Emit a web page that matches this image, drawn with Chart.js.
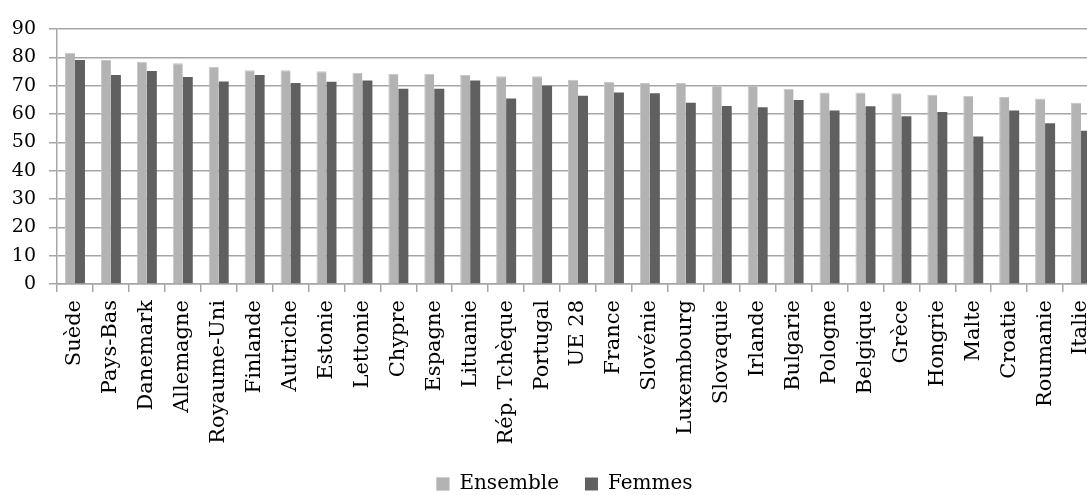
<!DOCTYPE html>
<html lang="fr">
<head>
<meta charset="utf-8">
<title>Taux d'emploi</title>
<script src="https://cdn.jsdelivr.net/npm/chart.js@4/dist/chart.umd.min.js"></script>
<style>
  html, body { margin: 0; padding: 0; background: #fff; overflow: hidden; }
  #wrap { width: 1122px; height: 495px; }
</style>
</head>
<body>
<div id="wrap"><canvas id="c" width="1122" height="495"></canvas></div>
<script>
// Pays classés par taux d'emploi de l'ensemble de la population
const categories = ["Suède", "Pays-Bas", "Danemark", "Allemagne", "Royaume-Uni", "Finlande",
  "Autriche", "Estonie", "Lettonie", "Chypre", "Espagne", "Lituanie", "Rép. Tchèque",
  "Portugal", "UE 28", "France", "Slovénie", "Luxembourg", "Slovaquie", "Irlande",
  "Bulgarie", "Pologne", "Belgique", "Grèce", "Hongrie", "Malte", "Croatie", "Roumanie", "Italie"];

const ensemble = [81.6, 79.1, 78.4, 77.9, 76.7, 75.4, 75.4, 75.1, 74.6, 74.2, 74.2, 73.8, 73.3,
  73.3, 72.1, 71.4, 70.9, 70.9, 69.9, 69.9, 68.9, 67.6, 67.6, 67.3, 66.8, 66.4, 66.0, 65.5, 64.0];

const femmes = [79.1, 73.8, 75.2, 73.1, 71.5, 73.8, 70.9, 71.4, 71.8, 68.9, 68.9, 71.8, 65.5,
  70.0, 66.4, 67.6, 67.3, 64.0, 62.8, 62.4, 64.9, 61.2, 62.7, 59.2, 60.7, 52.1, 61.2, 56.7, 54.1];

const yTicks = [0, 10, 20, 30, 40, 50, 60, 70, 80, 90];

const serif = "'DejaVu Serif', 'Liberation Serif', serif";
const axisGrey = '#a6a6a6';

// nudges the bottom legend a little to the right of the canvas centre
const legendOffset = {
  id: 'legendOffset',
  afterLayout(chart) {
    const lg = chart.legend;
    if (lg) { lg.left += 15; lg.right += 15; }
  }
};

new Chart(document.getElementById('c'), {
  type: 'bar',
  data: {
    labels: categories,
    datasets: [
      { label: 'Ensemble', data: ensemble, backgroundColor: '#b3b3b3',
        borderColor: '#c6c6c6', borderWidth: { left: 1, right: 0, top: 1, bottom: 0 } },
      { label: 'Femmes', data: femmes, backgroundColor: '#606060', borderWidth: 0 }
    ]
  },
  plugins: [legendOffset],
  options: {
    responsive: false,
    animation: false,
    devicePixelRatio: 1,
    categoryPercentage: 0.557,
    barPercentage: 1.0,
    layout: { padding: { left: 0, right: 23, top: 29, bottom: -9 } },
    plugins: {
      tooltip: { enabled: false },
      legend: {
        position: 'bottom',
        labels: {
          font: { family: serif, size: 20 },
          color: '#000',
          boxWidth: 13,
          boxHeight: 13,
          padding: 26
        }
      }
    },
    scales: {
      x: {
        offset: true,
        grid: {
          offset: true,
          drawOnChartArea: false,
          drawTicks: true,
          tickLength: 8,
          color: axisGrey,
          lineWidth: 1.5
        },
        border: { color: axisGrey, width: 1.5 },
        ticks: {
          autoSkip: false,
          maxRotation: 90,
          minRotation: 90,
          padding: 8,
          color: '#000',
          font: { family: serif, size: 21 }
        },
        afterFit: (scale) => { scale.height = 164; }
      },
      y: {
        min: 0,
        max: 90,
        afterBuildTicks: (scale) => { scale.ticks = yTicks.map(v => ({ value: v })); },
        grid: {
          color: axisGrey,
          lineWidth: 1.5,
          drawTicks: true,
          tickLength: 8
        },
        border: { color: axisGrey, width: 1.5 },
        ticks: {
          padding: 13,
          color: '#000',
          font: { family: serif, size: 19 }
        },
        afterFit: (scale) => { scale.width = 57; }
      }
    }
  }
});
</script>
</body>
</html>
